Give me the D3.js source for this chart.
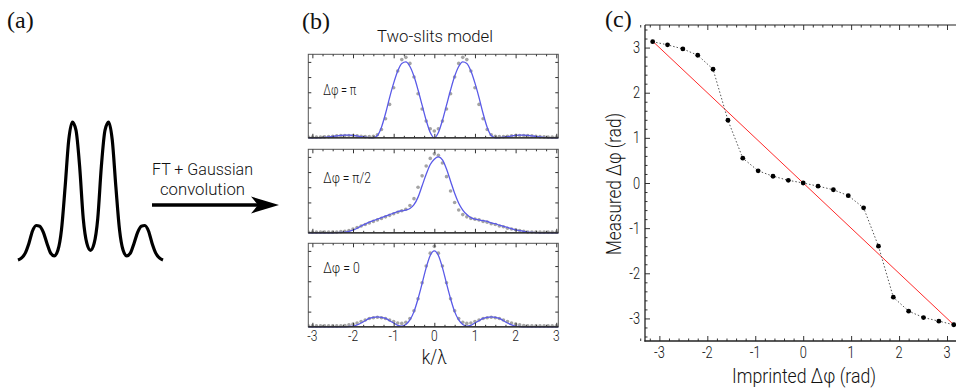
<!DOCTYPE html>
<html><head><meta charset="utf-8">
<script src="https://cdn.jsdelivr.net/npm/d3@7"></script>
<style>html,body{margin:0;padding:0;background:#fff}svg{display:block}</style>
</head><body>
<svg id="fig" width="956" height="390"></svg>
<script>
// ---------------- DATA ----------------
// (a) schematic intensity profile (normalised position, normalised intensity)
const schemX = [-1,-0.95,-0.9,-0.85,-0.8,-0.75,-0.7,-0.65,-0.6,-0.55,-0.5,-0.45,-0.4,-0.35,-0.3,-0.25,-0.2,-0.15,-0.1,-0.05,0,0.05,0.1,0.15,0.2,0.25,0.3,0.35,0.4,0.45,0.5,0.55,0.6,0.65,0.7,0.75,0.8,0.85,0.9,0.95,1];
const schemY = [0,0.015,0.05,0.12,0.21,0.25,0.245,0.2,0.12,0.05,0.03,0.07,0.22,0.53,0.87,1,0.94,0.68,0.3,0.12,0.07,0.12,0.3,0.68,0.94,1,0.87,0.53,0.22,0.07,0.03,0.05,0.12,0.2,0.245,0.25,0.21,0.12,0.05,0.015,0];

// (b) two-slits model, k/λ grid
const kGrid = [-3.1,-3,-2.9,-2.8,-2.7,-2.6,-2.5,-2.4,-2.3,-2.2,-2.1,-2,-1.9,-1.8,-1.7,-1.6,-1.5,-1.4,-1.3,-1.2,-1.1,-1,-0.9,-0.8,-0.7,-0.6,-0.5,-0.4,-0.3,-0.2,-0.1,0,0.1,0.2,0.3,0.4,0.5,0.6,0.7,0.8,0.9,1,1.1,1.2,1.3,1.4,1.5,1.6,1.7,1.8,1.9,2,2.1,2.2,2.3,2.4,2.5,2.6,2.7,2.8,2.9,3,3.1];
const modelPi = [0,0,0,0.002,0.006,0.011,0.018,0.025,0.031,0.035,0.035,0.031,0.024,0.015,0.008,0.003,0,0.03,0.14,0.32,0.53,0.72,0.88,0.98,1,0.94,0.81,0.63,0.43,0.23,0.07,0,0.07,0.23,0.43,0.63,0.81,0.94,1,0.98,0.88,0.72,0.53,0.32,0.14,0.03,0,0.003,0.008,0.015,0.024,0.031,0.035,0.035,0.031,0.025,0.018,0.011,0.006,0.002,0,0,0];
const dataPi = [0.01,0.01,0.01,0.01,0.012,0.015,0.02,0.025,0.028,0.03,0.03,0.03,0.025,0.02,0.015,0.015,0.02,0.04,0.11,0.25,0.44,0.66,0.88,1.03,1.06,0.98,0.8,0.58,0.38,0.22,0.12,0.09,0.12,0.22,0.38,0.58,0.8,0.98,1.06,1.03,0.88,0.66,0.44,0.25,0.11,0.04,0.02,0.015,0.015,0.02,0.025,0.03,0.03,0.03,0.028,0.025,0.02,0.015,0.012,0.01,0.01,0.01,0.01];
const modelHalfPi = [0,0,0,0,0,0,0,0.002,0.005,0.01,0.02,0.035,0.06,0.09,0.115,0.14,0.16,0.18,0.2,0.22,0.24,0.26,0.28,0.29,0.3,0.32,0.37,0.47,0.62,0.77,0.9,0.97,1,0.96,0.84,0.68,0.52,0.39,0.3,0.24,0.2,0.18,0.17,0.16,0.15,0.13,0.12,0.1,0.085,0.07,0.055,0.04,0.03,0.02,0.01,0.005,0.002,0,0,0,0,0,0];
const dataHalfPi = [0.01,0.01,0.01,0.01,0.01,0.01,0.01,0.01,0.015,0.02,0.03,0.05,0.07,0.09,0.11,0.13,0.15,0.17,0.19,0.21,0.23,0.25,0.27,0.29,0.31,0.36,0.45,0.6,0.75,0.88,0.98,1.04,1.02,0.92,0.74,0.55,0.4,0.3,0.24,0.21,0.19,0.18,0.17,0.15,0.14,0.12,0.11,0.09,0.08,0.06,0.05,0.04,0.03,0.02,0.01,0.01,0.01,0.01,0.01,0.01,0.01,0.01,0.01];
const modelZero = [0,0,0,0,0,0,0,0,0,0,0.004,0.01,0.025,0.05,0.08,0.11,0.125,0.13,0.125,0.11,0.08,0.05,0.02,0.01,0.03,0.09,0.2,0.37,0.57,0.78,0.94,1,0.94,0.78,0.57,0.37,0.2,0.09,0.03,0.01,0.02,0.05,0.08,0.11,0.125,0.13,0.125,0.11,0.08,0.05,0.025,0.01,0.004,0,0,0,0,0,0,0,0,0,0];
const dataZero = [0.012,0.012,0.012,0.012,0.012,0.012,0.012,0.012,0.014,0.018,0.025,0.035,0.05,0.07,0.09,0.11,0.12,0.125,0.12,0.11,0.09,0.07,0.05,0.045,0.06,0.11,0.21,0.37,0.58,0.8,0.97,1.06,0.97,0.8,0.58,0.37,0.21,0.11,0.06,0.045,0.05,0.07,0.09,0.11,0.12,0.125,0.12,0.11,0.09,0.07,0.05,0.035,0.025,0.018,0.014,0.012,0.012,0.012,0.012,0.012,0.012,0.012,0.012];
const subLabels = ["Δφ = π", "Δφ = π/2", "Δφ = 0"];
const kTicks = [-3,-2,-1,0,1,2,3];
const kTickLabels = ["-3","-2","-1","0","1","2","3"];

// (c) measured vs imprinted phase
const imprinted = [-3.14,-2.83,-2.51,-2.2,-1.88,-1.57,-1.26,-0.94,-0.63,-0.31,0,0.31,0.63,0.94,1.26,1.57,1.88,2.2,2.51,2.83,3.14];
const measured  = [3.13,3.06,2.97,2.83,2.52,1.39,0.55,0.27,0.15,0.06,0,-0.07,-0.15,-0.28,-0.55,-1.4,-2.53,-2.84,-2.98,-3.06,-3.14];
const idealX = [-3.14, 3.14];
const idealY = [3.14, -3.14];
const phaseTicks = [-3,-2,-1,0,1,2,3];
const phaseTickLabels = ["-3","-2","-1","0","1","2","3"];

// ---------------- DRAWING ----------------
const svg = d3.select("#fig");
const SANS = "Roboto, 'Liberation Sans', sans-serif";
const SERIF = "'Liberation Serif', 'DejaVu Serif', serif";

function txt(s, x, y, o = {}) {
  const t = svg.append("text").text(s)
    .attr("font-family", o.family || SANS)
    .attr("font-size", o.size || 13)
    .attr("font-weight", o.weight || 300)
    .attr("fill", o.fill || "#111")
    .attr("text-anchor", o.anchor || "start");
  let tr = `translate(${x},${y})`;
  if (o.rot) tr += ` rotate(${o.rot})`;
  if (o.sx) tr += ` scale(${o.sx},1)`;
  t.attr("transform", tr);
  if (o.len) t.attr("textLength", o.len).attr("lengthAdjust", "spacingAndGlyphs");
  return t;
}

// panel labels
txt("(a)", 7, 28, {family: SERIF, size: 24, weight: 400});
txt("(b)", 302, 28.5, {family: SERIF, size: 24, weight: 400});
txt("(c)", 605, 27, {family: SERIF, size: 24, weight: 400});

// ---- (a) ----
const xA = d3.scaleLinear().domain([-1, 1]).range([18, 163]);
const yA = d3.scaleLinear().domain([0, 1]).range([260, 122]);
svg.append("path")
  .attr("d", d3.line().x((d, i) => xA(schemX[i])).y(d => yA(d)).curve(d3.curveMonotoneX)(schemY))
  .attr("fill", "none").attr("stroke", "#000").attr("stroke-width", 3.2)
  .attr("stroke-linejoin", "round").attr("stroke-linecap", "butt");
// arrow
svg.append("line").attr("x1", 152).attr("x2", 262).attr("y1", 205).attr("y2", 205)
  .attr("stroke", "#000").attr("stroke-width", 3.4);
svg.append("path").attr("d", "M279,205 L251,196.5 L258,205 L251,213.5 Z").attr("fill", "#000");
txt("FT + Gaussian", 202.5, 175, {size: 17, anchor: "middle", len: 101});
txt("convolution", 202.5, 195, {size: 17, anchor: "middle", len: 85});

// ---- (b) ----
const xB = d3.scaleLinear().domain([-3.1, 3.05]).range([308.3, 558.3]);
const subTops = [54.3, 149.3, 243.3];
const subH = 83.5;
const labelY = [95, 183.3, 272.7];
const labelW = [33, 47.5, 36.5];
const models = [modelPi, modelHalfPi, modelZero];
const datas = [dataPi, dataHalfPi, dataZero];
const kMinor = d3.range(-3, 3.01, 0.25).filter(v => Math.abs(v - Math.round(v)) > 1e-6);

txt("Two-slits model", 435, 42, {size: 17, anchor: "middle", len: 116});

svg.append("defs").append("clipPath").attr("id", "clipB")
  .append("rect").attr("x", 308.3).attr("y", 0).attr("width", 250).attr("height", 390);

subTops.forEach((top, i) => {
  const yB = d3.scaleLinear().domain([0, 1.1]).range([top + subH, top]);
  const g = svg.append("g");
  const gc = g.append("g").attr("clip-path", "url(#clipB)");
  // data dots
  gc.selectAll("circle").data(datas[i]).join("circle")
    .attr("cx", (d, j) => xB(kGrid[j])).attr("cy", d => yB(d)).attr("r", 1.8)
    .attr("fill", "#a4a4a4");
  // model line
  gc.append("path")
    .attr("d", d3.line().x((d, j) => xB(kGrid[j])).y(d => yB(d)).curve(d3.curveMonotoneX)(models[i]))
    .attr("fill", "none").attr("stroke", "#5a5ae8").attr("stroke-width", 1.3);
  // frame
  g.append("rect").attr("x", 308.3).attr("y", top).attr("width", 250).attr("height", subH)
    .attr("fill", "none").attr("stroke", "#555").attr("stroke-width", 1);
  g.append("line").attr("x1", 308.3).attr("x2", 558.3).attr("y1", top + subH).attr("y2", top + subH)
    .attr("stroke", "#222").attr("stroke-width", 1.3);
  // ticks
  const mk = (axis, tx, ty) => {
    const a = g.append("g").attr("transform", `translate(${tx},${ty})`).call(axis);
    a.select(".domain").remove();
    a.selectAll("line").attr("stroke", "#333");
  };
  mk(d3.axisBottom(xB).tickValues(kTicks).tickSize(-4).tickFormat(() => ""), 0, top + subH);
  mk(d3.axisBottom(xB).tickValues(kMinor).tickSize(-2).tickFormat(() => ""), 0, top + subH);
  mk(d3.axisTop(xB).tickValues(kTicks).tickSize(-4).tickFormat(() => ""), 0, top);
  mk(d3.axisTop(xB).tickValues(kMinor).tickSize(-2).tickFormat(() => ""), 0, top);
  mk(d3.axisLeft(yB).tickValues([0.2, 0.4, 0.6, 0.8, 1.0]).tickSize(-3).tickFormat(() => ""), 308.3, 0);
  mk(d3.axisRight(yB).tickValues([0.2, 0.4, 0.6, 0.8, 1.0]).tickSize(-3).tickFormat(() => ""), 558.3, 0);
  txt(subLabels[i], 323.3, labelY[i], {size: 15, len: labelW[i]});
});
kTicks.forEach((v, i) => txt(kTickLabels[i], xB(v), 341, {size: 15, anchor: "middle", sx: 0.8}));
txt("k/λ", 434.3, 364, {size: 21, anchor: "middle", len: 25});

// ---- (c) ----
const xC = d3.scaleLinear().domain([-3.3, 3.2]).range([645, 956.6]);
const yC = d3.scaleLinear().domain([-3.5, 3.5]).range([341, 25]);
const pMinor = d3.range(-3.4, 3.41, 0.2).map(v => Math.round(v * 10) / 10)
  .filter(v => Math.abs(v - Math.round(v)) > 1e-6);
const gC = svg.append("g");
const mkC = (axis, tx, ty) => {
  const a = gC.append("g").attr("transform", `translate(${tx},${ty})`).call(axis);
  a.select(".domain").remove();
  a.selectAll("line").attr("stroke", "#333");
};
mkC(d3.axisBottom(xC).tickValues(phaseTicks).tickSize(-5).tickFormat(() => ""), 0, 341);
mkC(d3.axisBottom(xC).tickValues(pMinor.filter(v => v <= 3.2)).tickSize(-2.5).tickFormat(() => ""), 0, 341);
mkC(d3.axisTop(xC).tickValues(phaseTicks).tickSize(-5).tickFormat(() => ""), 0, 25);
mkC(d3.axisTop(xC).tickValues(pMinor.filter(v => v <= 3.2)).tickSize(-2.5).tickFormat(() => ""), 0, 25);
mkC(d3.axisLeft(yC).tickValues(phaseTicks).tickSize(-5).tickFormat(() => ""), 645, 0);
mkC(d3.axisLeft(yC).tickValues(pMinor).tickSize(-2.5).tickFormat(() => ""), 645, 0);
gC.append("line").attr("x1", 645).attr("x2", 956).attr("y1", 25).attr("y2", 25).attr("stroke", "#222").attr("stroke-width", 1.2);
gC.append("line").attr("x1", 645).attr("x2", 645).attr("y1", 25).attr("y2", 341.6).attr("stroke", "#222").attr("stroke-width", 1.3);
gC.append("line").attr("x1", 644.4).attr("x2", 956).attr("y1", 341).attr("y2", 341).attr("stroke", "#222").attr("stroke-width", 1.3);

// ideal line
gC.append("path")
  .attr("d", d3.line().x((d, i) => xC(idealX[i])).y(d => yC(d))(idealY))
  .attr("fill", "none").attr("stroke", "#ff2a2a").attr("stroke-width", 1);
// measured, dotted connection
gC.append("path")
  .attr("d", d3.line().x((d, i) => xC(imprinted[i])).y(d => yC(d))(measured))
  .attr("fill", "none").attr("stroke", "#555").attr("stroke-width", 1).attr("stroke-dasharray", "1.5,2");
gC.selectAll("circle").data(measured).join("circle")
  .attr("cx", (d, i) => xC(imprinted[i])).attr("cy", d => yC(d)).attr("r", 2.4).attr("fill", "#000");

phaseTicks.forEach((v, i) => txt(phaseTickLabels[i], xC(v), 358, {size: 16, anchor: "middle", sx: 0.8}));
phaseTicks.forEach((v, i) => txt(phaseTickLabels[i], 640, yC(v) + 5.5, {size: 16, anchor: "end", sx: 0.8}));
txt("Imprinted Δφ (rad)", 804, 382.7, {size: 20, anchor: "middle", len: 144});
txt("Measured Δφ (rad)", 621, 184, {size: 20, anchor: "middle", rot: -90, len: 142});
</script>
</body></html>
